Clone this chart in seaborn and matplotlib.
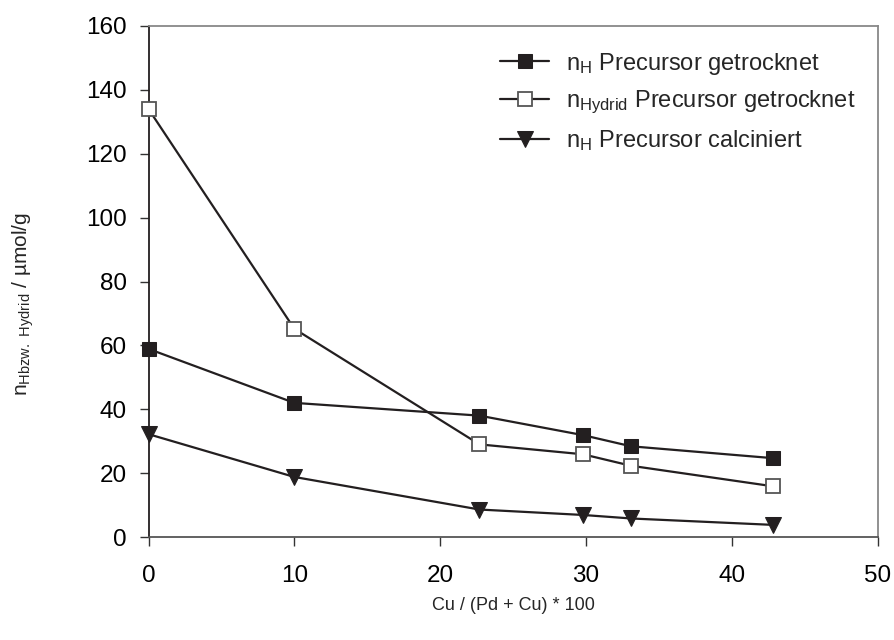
import matplotlib
matplotlib.use("Agg")
import matplotlib.pyplot as plt
import seaborn as sns
import pandas as pd

cu_ratio = [0, 10, 22.7, 29.8, 33.1, 42.8]
nh_dried = [58.9, 42.0, 38.0, 31.9, 28.4, 24.7]
nhydrid_dried = [134.0, 65.2, 29.0, 25.9, 22.3, 15.9]
nh_calcined = [32.2, 18.8, 8.6, 6.9, 5.8, 3.8]

labels = [r"n$_\mathregular{H}$ Precursor getrocknet",
          r"n$_\mathregular{Hydrid}$ Precursor getrocknet",
          r"n$_\mathregular{H}$ Precursor calciniert"]

sns.set_theme(style="ticks")
plt.rcParams['font.family'] = ['Liberation Sans', 'DejaVu Sans']
plt.rcParams['mathtext.default'] = 'regular'

fig = plt.figure(figsize=(8.94, 6.4), dpi=100)
ax = fig.add_axes([148.5/894, 1-537/640, (877.5-148.5)/894, (537-26)/640])

ink = "#231f20"
series = [
    (nh_dried, dict(marker="s", markerfacecolor=ink, markeredgecolor=ink, markersize=10.5)),
    (nhydrid_dried, dict(marker="s", markerfacecolor="white", markeredgecolor="#555555", markeredgewidth=1.3, markersize=10.5)),
    (nh_calcined, dict(marker="v", markerfacecolor=ink, markeredgecolor=ink, markersize=12)),
]
for (vals, mk), lab in zip(series, labels):
    df = pd.DataFrame({"x": cu_ratio, "y": vals})
    sns.lineplot(data=df, x="x", y="y", ax=ax, color=ink, linewidth=1.6,
                 label=lab, clip_on=False, zorder=3, **mk)

ax.set_xlim(0, 50)
ax.set_ylim(0, 160)
ax.set_xticks([0, 10, 20, 30, 40, 50])
ax.set_yticks(range(0, 161, 20))
ax.tick_params(axis="both", labelsize=17.5, direction="out", length=6.5, width=1,
               color="#333333", labelcolor="black")
ax.tick_params(axis="x", pad=14)
ax.tick_params(axis="y", pad=9)
ax.spines["left"].set_color(ink)
ax.spines["left"].set_linewidth(1.3)
ax.spines["bottom"].set_color("#555555")
ax.spines["bottom"].set_linewidth(1.3)
for side in ["top", "right"]:
    ax.spines[side].set_visible(True)
    ax.spines[side].set_color("#888888")
    ax.spines[side].set_linewidth(1.3)

ax.set_xlabel("Cu / (Pd + Cu) * 100", fontsize=13, labelpad=7)
ax.set_ylabel(r"n$_{\mathregular{Hbzw.\ Hydrid}}$ / µmol/g", fontsize=15)
ax.yaxis.set_label_coords(-0.154, 0.456)

leg = ax.legend(loc="upper left", bbox_to_anchor=(0.482, 0.952), frameon=False,
                fontsize=17, handlelength=2.1, handletextpad=0.7, labelspacing=0.52,
                borderaxespad=0, borderpad=0)

fig.savefig("out.png", dpi=100, facecolor="white")
